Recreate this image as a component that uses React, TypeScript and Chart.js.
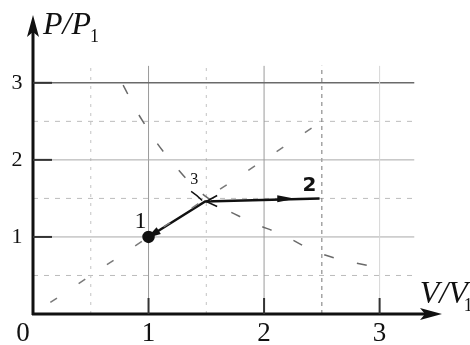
import { useEffect, useRef } from "react";
import { Chart, registerables } from "chart.js";
Chart.register(...registerables);

// P = V diagonal (dashed)
const diagV = [0.15, 2.45];
const diagP = [0.15, 2.45];
// second dashed curve through state 3
const curveV = [0.78, 0.93, 1.17, 1.5, 1.88, 2.14, 2.5, 2.98];
const curveP = [2.97, 2.55, 2.03, 1.52, 1.2, 1.04, 0.78, 0.6];
// process path 1 -> 3 -> 2
const pathV = [1, 1.49, 2.48];
const pathP = [1, 1.46, 1.5];
const pathLabels = ["1", "3", "2"];
const xTicks = [1, 2, 3];
const yTicks = [1, 2, 3];
const majorGrid = [1, 2, 3];
const halfGrid = [0.5, 1.5, 2.5];
const gridMaxX = 3.3;
const gridMaxY = 3.22;

const SERIF = "'Liberation Serif', 'Times New Roman', serif";

const pts = (xs: number[], ys: number[]) => xs.map((v, i) => ({ x: v, y: ys[i] }));

const decor = {
  id: "decor",
  beforeDatasetsDraw(chart: any) {
    const { ctx } = chart;
    const x = chart.scales.x;
    const y = chart.scales.y;
    const X = (v: number) => x.getPixelForValue(v);
    const Y = (v: number) => y.getPixelForValue(v);
    ctx.save();
    // half grid (dashed)
    ctx.lineWidth = 1;
    halfGrid.forEach((g) => {
      ctx.strokeStyle = "#bcbcbc";
      ctx.setLineDash([5, 6]);
      ctx.beginPath();
      ctx.moveTo(X(0), Y(g));
      ctx.lineTo(X(gridMaxX), Y(g));
      ctx.stroke();
      ctx.strokeStyle = g === 2.5 ? "#777" : "#c4c4c4";
      ctx.setLineDash(g === 2.5 ? [4, 4] : [3, 6]);
      ctx.beginPath();
      ctx.moveTo(X(g), Y(0));
      ctx.lineTo(X(g), Y(gridMaxY));
      ctx.stroke();
    });
    ctx.setLineDash([]);
    // major grid
    majorGrid.forEach((g) => {
      ctx.strokeStyle = g === 3 ? "#6a6a6a" : "#a8a8a8";
      ctx.lineWidth = g === 3 ? 1.5 : 1;
      ctx.beginPath();
      ctx.moveTo(X(0), Y(g));
      ctx.lineTo(X(gridMaxX), Y(g));
      ctx.stroke();
      ctx.strokeStyle = g === 3 ? "#d6d6d6" : "#9a9a9a";
      ctx.lineWidth = 1;
      ctx.beginPath();
      ctx.moveTo(X(g), Y(0));
      ctx.lineTo(X(g), Y(gridMaxY));
      ctx.stroke();
    });
    // axes
    ctx.strokeStyle = "#111";
    ctx.fillStyle = "#111";
    ctx.lineWidth = 3;
    const ox = X(0), oy = Y(0);
    const top = chart.chartArea.top, right = chart.chartArea.right;
    ctx.beginPath();
    ctx.moveTo(ox, oy + 1);
    ctx.lineTo(ox, top + 14);
    ctx.moveTo(ox - 1, oy);
    ctx.lineTo(right - 16, oy);
    ctx.stroke();
    ctx.beginPath();
    ctx.moveTo(ox, top);
    ctx.lineTo(ox - 6, top + 22);
    ctx.lineTo(ox, top + 17);
    ctx.lineTo(ox + 6, top + 22);
    ctx.closePath();
    ctx.fill();
    ctx.beginPath();
    ctx.moveTo(right, oy);
    ctx.lineTo(right - 22, oy - 6);
    ctx.lineTo(right - 17, oy);
    ctx.lineTo(right - 22, oy + 6);
    ctx.closePath();
    ctx.fill();
    // tick marks
    ctx.lineWidth = 2;
    ctx.strokeStyle = "#333";
    yTicks.forEach((t) => {
      ctx.beginPath();
      ctx.moveTo(ox, Y(t));
      ctx.lineTo(ox + 19, Y(t));
      ctx.stroke();
    });
    xTicks.forEach((t) => {
      ctx.beginPath();
      ctx.moveTo(X(t), oy);
      ctx.lineTo(X(t), oy - 16);
      ctx.stroke();
    });
    // tick labels
    ctx.fillStyle = "#111";
    ctx.textAlign = "center";
    ctx.textBaseline = "middle";
    ctx.font = "22px " + SERIF;
    yTicks.forEach((t) => ctx.fillText(String(t), 17, Y(t)));
    ctx.font = "27px " + SERIF;
    xTicks.forEach((t) => ctx.fillText(String(t), X(t), oy + 20));
    ctx.fillText("0", ox - 10, oy + 20);
    // axis titles
    ctx.textAlign = "left";
    ctx.textBaseline = "alphabetic";
    ctx.font = "italic 32px " + SERIF;
    ctx.fillText("P/P", ox + 10, top + 19);
    ctx.font = "18px " + SERIF;
    ctx.fillText("1", ox + 57, top + 27);
    ctx.font = "italic 32px " + SERIF;
    ctx.fillText("V/V", X(3.4) - 6, oy - 11);
    ctx.font = "18px " + SERIF;
    ctx.fillText("1", X(3.4) + 38, oy - 3);
    ctx.restore();
  },
  afterDatasetsDraw(chart: any) {
    const { ctx } = chart;
    const x = chart.scales.x;
    const y = chart.scales.y;
    const p = pathV.map((v, i) => ({ px: x.getPixelForValue(v), py: y.getPixelForValue(pathP[i]) }));
    ctx.save();
    ctx.fillStyle = "#111";
    ctx.strokeStyle = "#111";
    // arrowhead at 1 (from 3 toward 1)
    const a = Math.atan2(p[0].py - p[1].py, p[0].px - p[1].px);
    const tip = { x: p[0].px + 2 * Math.cos(a), y: p[0].py + 2 * Math.sin(a) };
    ctx.beginPath();
    ctx.moveTo(tip.x, tip.y);
    ctx.lineTo(tip.x - 14 * Math.cos(a) + 4 * Math.sin(a), tip.y - 14 * Math.sin(a) - 4 * Math.cos(a));
    ctx.lineTo(tip.x - 14 * Math.cos(a) - 4 * Math.sin(a), tip.y - 14 * Math.sin(a) + 4 * Math.cos(a));
    ctx.closePath();
    ctx.fill();
    // open arrow at 3 pointing left
    ctx.lineWidth = 1.5;
    ctx.beginPath();
    ctx.moveTo(p[1].px + 12, p[1].py - 6);
    ctx.lineTo(p[1].px + 1, p[1].py);
    ctx.lineTo(p[1].px + 12, p[1].py + 5);
    ctx.stroke();
    // little stroke under label 3
    ctx.beginPath();
    ctx.moveTo(p[1].px - 14, p[1].py - 10);
    ctx.quadraticCurveTo(p[1].px - 8, p[1].py - 6, p[1].px - 3, p[1].py - 1);
    ctx.stroke();
    // filled arrow near 2 pointing right
    const ax = x.getPixelForValue(2.27);
    const ay = y.getPixelForValue(1.495);
    ctx.beginPath();
    ctx.moveTo(ax, ay);
    ctx.lineTo(ax - 18, ay - 3.5);
    ctx.lineTo(ax - 18, ay + 3.5);
    ctx.closePath();
    ctx.fill();
    // state labels
    ctx.textAlign = "center";
    ctx.textBaseline = "middle";
    ctx.font = "24px " + SERIF;
    ctx.fillText(pathLabels[0], p[0].px - 8, p[0].py - 15);
    ctx.font = "16px " + SERIF;
    ctx.fillText(pathLabels[1], p[1].px - 11, p[1].py - 22);
    ctx.font = "bold 20px 'DejaVu Sans', sans-serif";
    ctx.fillText(pathLabels[2], p[2].px - 10, p[2].py - 13);
    ctx.restore();
  },
};

export default function App() {
  const ref = useRef<HTMLCanvasElement | null>(null);
  useEffect(() => {
    if (!ref.current) return;
    const chart = new Chart(ref.current, {
      type: "scatter",
      data: {
        datasets: [
          {
            data: pts(diagV, diagP),
            showLine: true,
            borderColor: "#7a7a7a",
            borderWidth: 1.5,
            borderDash: [8, 26],
            pointRadius: 0,
          },
          {
            data: pts(curveV, curveP),
            showLine: true,
            tension: 0.4,
            borderColor: "#6a6a6a",
            borderWidth: 1.5,
            borderDash: [10, 24],
            pointRadius: 0,
          },
          {
            data: pts(pathV, pathP),
            showLine: true,
            borderColor: "#111",
            borderWidth: 2.5,
            pointRadius: [5, 0, 0],
            pointBackgroundColor: "#111",
            pointBorderColor: "#111",
          },
        ],
      },
      options: {
        responsive: false,
        animation: false,
        events: [],
        layout: { padding: { left: 33, top: 15, right: 28, bottom: 31 } },
        plugins: { legend: { display: false }, tooltip: { enabled: false } },
        scales: {
          x: { type: "linear", min: 0, max: 3.54, display: false },
          y: { type: "linear", min: 0, max: 3.88, display: false },
        },
      },
      plugins: [decor],
    });
    let alive = true;
    if ((document as any).fonts) {
      Promise.all([
        document.fonts.load("22px 'Liberation Serif'"),
        document.fonts.load("italic 32px 'Liberation Serif'"),
      ]).then(() => {
        if (alive) chart.update();
      }).catch(() => {});
    }
    return () => {
      alive = false;
      chart.destroy();
    };
  }, []);
  return (
    <div style={{ position: "absolute", left: 0, top: 0, width: 470, height: 345, background: "#fff" }}>
      <canvas ref={ref} width={470} height={345} />
    </div>
  );
}
